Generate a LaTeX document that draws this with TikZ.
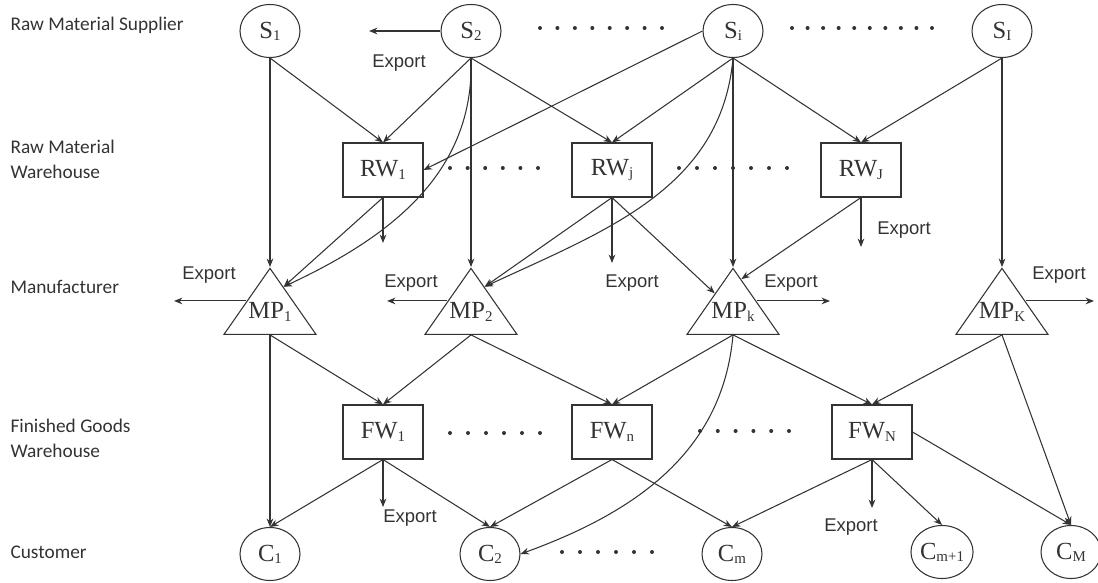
\documentclass[tikz,border=0pt]{standalone}
\usepackage{fontspec}
\setmainfont{Liberation Serif}
\newfontfamily\tierfont{Carlito}
\newfontfamily\expfont{Liberation Sans}
\usepackage{tikz}
\usetikzlibrary{shapes.geometric, arrows.meta}
\newcommand{\ix}[1]{\raisebox{-0.2ex}{\fontsize{8.5}{8.5}\selectfont #1}}

\begin{document}
\begin{tikzpicture}[>={Stealth[length=4.8pt, width=3.8pt]}, line width=0.6pt, color=black!80,
    font=\fontsize{14}{16}\selectfont,
    supp/.style={draw, ellipse, minimum width=1.20cm, minimum height=1.06cm, inner sep=0pt},
    ware/.style={draw, rectangle, minimum width=1.60cm, minimum height=1.08cm, inner sep=0pt},
    manu/.style={draw, isosceles triangle, isosceles triangle stretches, shape border rotate=90,
                 minimum width=1.84cm, minimum height=1.32cm, inner sep=0pt, anchor=apex},
    tier/.style={anchor=west, align=left, inner sep=0pt, font=\tierfont\fontsize{11}{14.2}\selectfont},
    expo/.style={font=\expfont\fontsize{10.5}{12}\selectfont},
    dotrow/.style={line width=0.08cm, line cap=round, dash pattern=on 0pt off #1}]
    \useasboundingbox (0,0) rectangle (21.96,-11.66);

    \node[tier]  (T1)  at ( 0.20,  -0.50)   {Raw Material Supplier};
    \node[tier]  (T2)  at ( 0.20,  -3.19)   {Raw Material \\ Warehouse};
    \node[tier]  (T3)  at ( 0.20,  -5.74)   {Manufacturer};
    \node[tier]  (T4)  at ( 0.20,  -8.77)   {Finished Goods \\ Warehouse};
    \node[tier]  (T5)  at ( 0.20, -11.04)   {Customer};

    \node[supp]  (S1)  at ( 5.40,  -0.62)   {S\ix{1}};
    \node[supp]  (S2)  at ( 9.42,  -0.62)   {S\ix{2}};
    \node[supp]  (Si)  at (14.66,  -0.62)   {S\ix{i}};
    \node[supp]  (SI)  at (20.04,  -0.62)   {S\ix{I}};

    \node[ware]  (RW1) at ( 7.66,  -3.40)   {RW\ix{1}};
    \node[ware]  (RWj) at (12.24,  -3.40)   {RW\ix{j}};
    \node[ware]  (RWJ) at (17.22,  -3.40)   {RW\ix{J}};

    \node[manu]  (MP1) at ( 5.40,  -5.34)   {};
    \node[manu]  (MP2) at ( 9.42,  -5.34)   {};
    \node[manu]  (MPk) at (14.66,  -5.34)   {};
    \node[manu]  (MPK) at (20.04,  -5.34)   {};
    \node (MP1t) at ([yshift=0.46cm]MP1.lower side) {MP\ix{1}};
    \node (MP2t) at ([yshift=0.46cm]MP2.lower side) {MP\ix{2}};
    \node (MPkt) at ([yshift=0.46cm]MPk.lower side) {MP\ix{k}};
    \node (MPKt) at ([yshift=0.46cm]MPK.lower side) {MP\ix{K}};

    \node[ware]  (FW1) at ( 7.66,  -8.64)   {FW\ix{1}};
    \node[ware]  (FWn) at (12.24,  -8.64)   {FW\ix{n}};
    \node[ware]  (FWN) at (17.44,  -8.64)   {FW\ix{N}};

    \node[supp]  (C1)  at ( 5.40, -11.08)   {C\ix{1}};
    \node[supp]  (C2)  at ( 9.80, -11.08)   {C\ix{2}};
    \node[supp]  (Cm)  at (14.64, -11.08)   {C\ix{m}};
    \node[supp]  (Cm1) at (18.84, -11.04)   {C\ix{m+1}};
    \node[supp]  (CM)  at (21.42, -11.04)   {C\ix{M}};

    % export ends
    \coordinate  (xS2)  at ( 7.38,  -0.62);
    \coordinate  (xRW1) at ( 7.66,  -4.86);
    \coordinate  (xRWj) at (12.24,  -5.26);
    \coordinate  (xRWJ) at (17.22,  -4.94);
    \coordinate  (xMP1) at ( 3.48,  -5.94);
    \coordinate  (xMP2) at ( 7.74,  -6.00);
    \coordinate  (xMPk) at (16.60,  -6.00);
    \coordinate  (xMPK) at (21.88,  -5.96);
    \coordinate  (xFW1) at ( 7.66, -10.14);
    \coordinate  (xFWN) at (17.44, -10.16);

    \node[expo]  (E1)  at ( 7.98,  -1.26)   {Export};
    \node[expo]  (E2)  at ( 4.18,  -5.50)   {Export};
    \node[expo]  (E3)  at ( 8.22,  -5.66)   {Export};
    \node[expo]  (E4)  at (12.64,  -5.66)   {Export};
    \node[expo]  (E5)  at (15.82,  -5.66)   {Export};
    \node[expo]  (E6)  at (18.08,  -4.60)   {Export};
    \node[expo]  (E7)  at (21.18,  -5.50)   {Export};
    \node[expo]  (E8)  at ( 8.20, -10.36)   {Export};
    \node[expo]  (E9)  at (17.02, -10.54)   {Export};

    % dots between the nodes
    \draw[dotrow=0.3486cm] (10.80,  -0.56) -- (13.26,  -0.56);
    \draw[dotrow=0.3111cm] (15.84,  -0.56) -- (18.66,  -0.56);
    \draw[dotrow=0.352cm]  ( 9.00,  -3.36) -- (10.78,  -3.36);
    \draw[dotrow=0.36cm]   (13.58,  -3.36) -- (15.76,  -3.36);
    \draw[dotrow=0.36cm]   ( 9.00,  -8.66) -- (10.82,  -8.66);
    \draw[dotrow=0.356cm]  (14.00,  -8.62) -- (15.80,  -8.62);
    \draw[dotrow=0.36cm]   (11.24, -11.04) -- (13.06, -11.04);

    \draw[->] (S2) -- (xS2);

    \draw[->] (S1.south) -- (RW1.north);
    \draw[->] (S2.south) -- (RW1.north);
    \draw[->] (Si.west)  -- (RW1.east);
    \draw[->] (S2.south) -- (RWj.north);
    \draw[->] (Si.south) -- (RWj.north);
    \draw[->] (Si.south) -- (RWJ.north);
    \draw[->] (SI.south) -- (RWJ.north);

    \draw[->] (S1) -- (MP1.apex);
    \draw[->] (S2) -- (MP2.apex);
    \draw[->] (Si) -- (MPk.apex);
    \draw[->] (SI) -- (MPK.apex);
    \draw[->] (S2.south) to[out=-88, in=25] (MP1.60);
    \draw[->] (Si.south) to[out=-95, in=25] (MP2.60);

    \draw[->] (RW1.south) -- (MP1.60);
    \draw[->] (RW1) -- (xRW1);
    \draw[->] (RWj.south) -- (MP2.60);
    \draw[->] (RWj) -- (xRWj);
    \draw[->] (RWj.south) -- (MPk);
    \draw[->] (RWJ.south) -- (MPk.75);
    \draw[->] (RWJ) -- (xRWJ);

    \draw[->] (MP1.left side)  -- (MP1.left side -| xMP1);
    \draw[->] (MP2.left side)  -- (MP2.left side -| xMP2);
    \draw[->] (MPk.right side) -- (MPk.right side -| xMPk);
    \draw[->] (MPK.right side) -- (MPK.right side -| xMPK);

    \draw[->] (MP1.lower side) -- (FW1.north);
    \draw[->] (MP2.lower side) -- (FW1.north);
    \draw[->] (MP2.lower side) -- (FWn.north);
    \draw[->] (MPk.lower side) -- (FWn.north);
    \draw[->] (MPk.lower side) -- (FWN.north);
    \draw[->] (MPK.lower side) -- (FWN.north);
    \draw[->] (MP1.lower side) -- (C1.north);
    \draw[->] (MPK.lower side) -- (CM.north);
    \draw[->] (MPk.lower side) to[out=-95, in=20] (C2.east);

    \draw[->] (FW1.south) -- (C1.north);
    \draw[->] (FW1) -- (xFW1);
    \draw[->] (FW1.south) -- (C2.north);
    \draw[->] (FWn.south) -- (C2.north);
    \draw[->] (FWn.south) -- (Cm.north);
    \draw[->] (FWN.south) -- (Cm.north);
    \draw[->] (FWN) -- (xFWN);
    \draw[->] (FWN.south) -- (Cm1.north);
    \draw[->] (FWN.east)  -- (CM.north);
\end{tikzpicture}
\end{document}
